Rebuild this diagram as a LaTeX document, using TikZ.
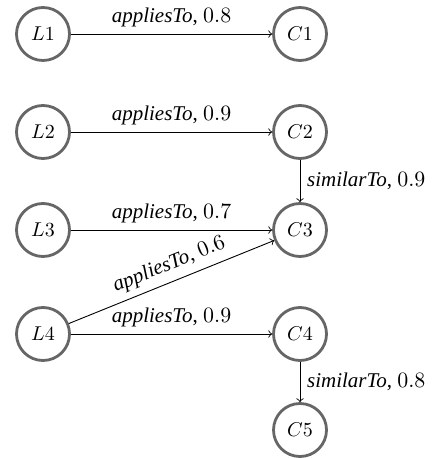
\documentclass[tikz,border=0pt]{standalone}
\usepackage{fontspec}
\setmainfont{Liberation Serif}
\begin{document}
\begin{tikzpicture}[x=0.5pt,y=-0.5pt,
  vertex/.style={circle,draw=black!60,line width=1.4pt,minimum size=26.5pt,inner sep=0pt},
  rel/.style={->,>=to,line width=0.45pt},
  lab/.style={font=\fontsize{10.5}{12}\selectfont}]
\useasboundingbox (0,0) rectangle (435,458);
\node[vertex] (L1) at (43,34) {$L1$};
\node[vertex] (C1) at (300,34) {$C1$};
\node[vertex] (L2) at (43,132) {$L2$};
\node[vertex] (C2) at (300,132) {$C2$};
\node[vertex] (L3) at (43,230) {$L3$};
\node[vertex] (C3) at (300,230) {$C3$};
\node[vertex] (L4) at (43,334) {$L4$};
\node[vertex] (C4) at (300,334) {$C4$};
\node[vertex] (C5) at (300,430) {$C5$};
\draw[rel] (L1) -- node[above,lab] {\textit{appliesTo}, $0.8$} (C1);
\draw[rel] (L2) -- node[above,lab] {\textit{appliesTo}, $0.9$} (C2);
\draw[rel] (L3) -- node[above,lab] {\textit{appliesTo}, $0.7$} (C3);
\draw[rel] (L4) -- node[above,sloped,lab,pos=0.52] {\textit{appliesTo}, $0.6$} (C3);
\draw[rel] (L4) -- node[above,lab] {\textit{appliesTo}, $0.9$} (C4);
\draw[rel] (C2) -- node[right,lab] {\textit{similarTo}, $0.9$} (C3);
\draw[rel] (C4) -- node[right,lab] {\textit{similarTo}, $0.8$} (C5);
\end{tikzpicture}
\end{document}
